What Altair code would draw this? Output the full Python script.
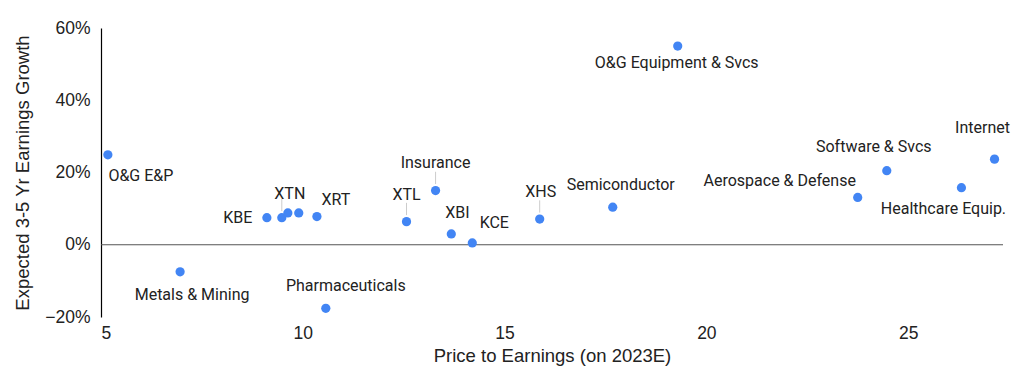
import altair as alt
import pandas as pd

names = ["O&G E&P", "Metals & Mining", "KBE", "XTN", "", "", "XRT", "Pharmaceuticals",
         "XTL", "Insurance", "XBI", "KCE", "XHS", "Semiconductor", "O&G Equipment & Svcs",
         "Aerospace & Defense", "Software & Svcs", "Healthcare Equip.", "Internet"]
pe = [5.17, 6.96, 9.11, 9.48, 9.63, 9.90, 10.35, 10.57,
      12.57, 13.29, 13.68, 14.20, 15.87, 17.68, 19.29,
      23.75, 24.47, 26.32, 27.14]
growth = [0.249, -0.075, 0.075, 0.075, 0.088, 0.088, 0.078, -0.176,
          0.064, 0.150, 0.030, 0.005, 0.071, 0.104, 0.550,
          0.131, 0.205, 0.158, 0.237]
# label placement offsets (pixels) relative to each point
label_dx = [33, 12, -29, 8, 0, 0, 19, 20, 0, 0, 6, 22, 1, 8, -1, -78, -13, -18, -12]
label_dy = [21, 23, 0, -24, 0, 0, -17, -22, -27, -28, -21, -20, -27, -22, 17, -16, -24, 21, -31]
leader = ["XTN", "XTL", "Insurance", "XHS"]

df = pd.DataFrame({"name": names, "pe": pe, "growth": growth,
                   "dx": label_dx, "dy": label_dy})
lead = df[df["name"].isin(leader)].copy()
lead["y1"] = lead["growth"] + 0.018
lead["y2"] = lead["growth"] + 0.052

FONT = "Roboto"
AXFONT = "Liberation Sans"
xscale = alt.Scale(domain=[5, 27.35], nice=False, zero=False)
yscale = alt.Scale(domain=[-0.2, 0.6], nice=False)

zero = alt.Chart(pd.DataFrame({"z": [0]})).mark_rule(color="#555555", strokeWidth=1.2).encode(
    y=alt.Y("z:Q", scale=yscale)
)

pts = alt.Chart(df).mark_circle(size=85, color="#4285F4", opacity=1).encode(
    x=alt.X("pe:Q", scale=xscale,
            axis=alt.Axis(title="Price to Earnings (on 2023E)", values=[5, 10, 15, 20, 25],
                          domain=False, ticks=False, grid=False, labelFontSize=17.5,
                          titleFontSize=18.5, labelPadding=7, titlePadding=5,
                          labelColor="#222222", titleColor="#222222", titleFontWeight="normal",
                          labelFont=AXFONT, titleFont=AXFONT)),
    y=alt.Y("growth:Q", scale=yscale,
            axis=alt.Axis(title="Expected 3-5 Yr Earnings Growth", format=".0%",
                          values=[-0.2, 0, 0.2, 0.4, 0.6], domain=True, domainColor="#000000",
                          domainWidth=1.2, ticks=False, grid=False, labelFontSize=17.5,
                          titleFontSize=18.5, labelPadding=11, titlePadding=12,
                          labelColor="#222222", titleColor="#222222", titleFontWeight="normal",
                          labelFont=AXFONT, titleFont=AXFONT)),
)

leaders = alt.Chart(lead).mark_rule(color="#cccccc", strokeWidth=1).encode(
    x=alt.X("pe:Q", scale=xscale),
    y=alt.Y("y1:Q", scale=yscale),
    y2="y2:Q",
)

text_layers = []
for i, row in df.iterrows():
    if row["name"] == "":
        continue
    t = alt.Chart(df.iloc[[i]]).mark_text(
        font=FONT, fontSize=16, color="#222222", align="center", baseline="middle",
        dx=int(row["dx"]), dy=int(row["dy"])
    ).encode(
        x=alt.X("pe:Q", scale=xscale),
        y=alt.Y("growth:Q", scale=yscale),
        text="name:N",
    )
    text_layers.append(t)

chart = alt.layer(zero, leaders, pts, *text_layers).properties(
    width=902, height=289,
    autosize=alt.AutoSizeParams(type="none"),
    padding={"left": 93, "top": 20, "right": 13, "bottom": 56},
    background="white",
).configure(view=alt.ViewConfig(stroke=None))

chart.save("out.html", embed_options={"renderer": "svg", "actions": False})
